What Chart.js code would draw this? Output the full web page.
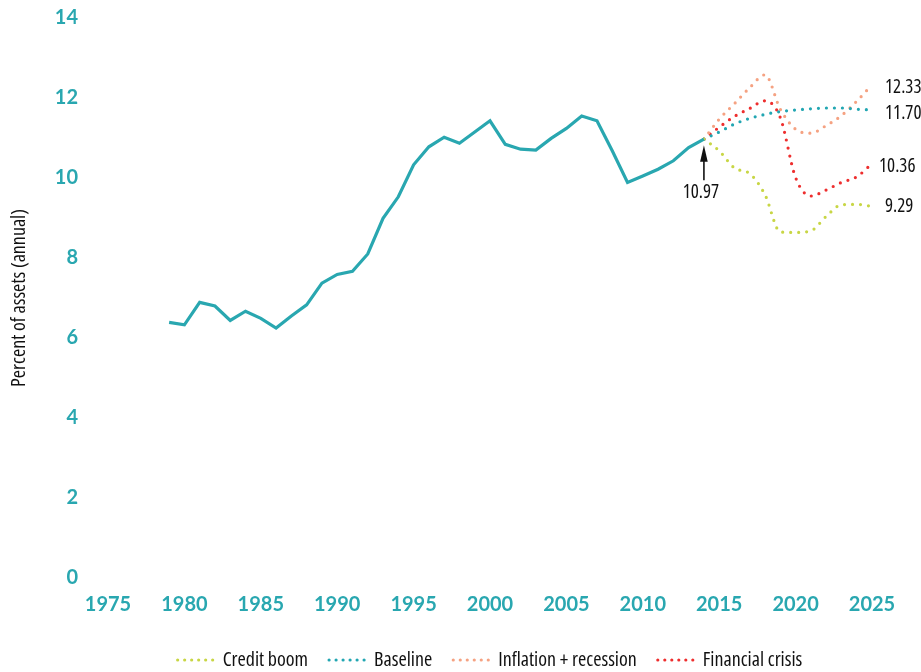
<!DOCTYPE html>
<html>
<head>
<meta charset="utf-8">
<script src="https://cdn.jsdelivr.net/npm/chart.js@4.4.1/dist/chart.umd.min.js"></script>
<style>
  html, body { margin: 0; padding: 0; background: #fff; }
  #wrap { width: 921px; height: 672px; }
</style>
</head>
<body>
<div id="wrap"><canvas id="chart"></canvas></div>
<script>
// historical series, 1979-2014
const histYears = [1979, 1980, 1981, 1982, 1983, 1984, 1985, 1986, 1987, 1988, 1989, 1990,
  1991, 1992, 1993, 1994, 1995, 1996, 1997, 1998, 1999, 2000, 2001, 2002,
  2003, 2004, 2005, 2006, 2007, 2008, 2009, 2010, 2011, 2012, 2013, 2014]
const histValues = [6.39, 6.33, 6.89, 6.80, 6.44, 6.67, 6.49, 6.25, 6.55, 6.83, 7.37, 7.59,
  7.67, 8.10, 8.99, 9.53, 10.33, 10.78, 11.02, 10.87, 11.15, 11.43, 10.84, 10.72,
  10.70, 10.99, 11.24, 11.55, 11.43, 10.68, 9.89, 10.05, 10.22, 10.43, 10.76, 10.97]

// scenario projections, 2014-2025
const projYears = [2014, 2015, 2016, 2017, 2018, 2019, 2020, 2021, 2022, 2023, 2024, 2025]
const creditBoom = [10.97, 10.68, 10.25, 10.11, 9.58, 8.65, 8.64, 8.68, 9.04, 9.33, 9.34, 9.29]
const baseline = [10.97, 11.15, 11.35, 11.49, 11.59, 11.66, 11.70, 11.73, 11.75, 11.75, 11.72, 11.70]
const inflationRecession = [10.97, 11.47, 11.86, 12.26, 12.58, 11.72, 11.22, 11.12, 11.31, 11.56, 11.92, 12.33]
const financialCrisis = [10.97, 11.27, 11.54, 11.74, 11.93, 11.51, 10.01, 9.55, 9.70, 9.89, 10.03, 10.36]

const yTicks = [0, 2, 4, 6, 8, 10, 12, 14]
const xTicks = [1975, 1980, 1985, 1990, 1995, 2000, 2005, 2010, 2015, 2020, 2025]

const teal = "#29a7b0"
// "condensed" goes in the weight slot so the font string picks the narrow face
const narrowFamily = "'Open Sans', sans-serif"
const narrow = (size) => ({ family: narrowFamily, size, weight: "condensed" })
const tickFont = { family: "Lato, 'Open Sans', sans-serif", size: 20, weight: "bold" }

const toPoints = (years, values) => years.map((yr, i) => ({ x: yr, y: values[i] }))

const dotted = (label, color, values) => ({
  label,
  data: toPoints(projYears, values),
  borderColor: color,
  backgroundColor: "transparent",
  borderWidth: 3.2,
  borderDash: [0, 8],
  borderCapStyle: "round",
  cubicInterpolationMode: "monotone",
  pointRadius: 0,
})

const noPadding = (scale) => {
  scale.paddingTop = 0
  scale.paddingBottom = 0
  scale.paddingLeft = 0
  scale.paddingRight = 0
}

// end-of-line value labels and the arrow at the last actual value
const annotations = {
  id: "annotations",
  afterDatasetsDraw(chart) {
    const { ctx, scales: { x, y } } = chart
    ctx.save()
    ctx.font = `condensed 19px ${narrowFamily}`
    ctx.fillStyle = "#111"
    ctx.textBaseline = "middle"
    ctx.textAlign = "left"
    const ends = [
      { v: inflationRecession[inflationRecession.length - 1], dx: 13, dy: 3 },
      { v: baseline[baseline.length - 1], dx: 13, dy: 4 },
      { v: financialCrisis[financialCrisis.length - 1], dx: 7, dy: 3 },
      { v: creditBoom[creditBoom.length - 1], dx: 13, dy: 0 },
    ]
    const xEnd = x.getPixelForValue(projYears[projYears.length - 1])
    ends.forEach((e) => {
      ctx.fillText(e.v.toFixed(2), xEnd + e.dx, y.getPixelForValue(e.v) + e.dy)
    })

    const last = histValues[histValues.length - 1]
    const ax = x.getPixelForValue(histYears[histYears.length - 1])
    const ay = y.getPixelForValue(last)
    ctx.strokeStyle = "#111"
    ctx.fillStyle = "#111"
    ctx.lineWidth = 1.6
    ctx.beginPath()
    ctx.moveTo(ax, ay + 41)
    ctx.lineTo(ax, ay + 20)
    ctx.stroke()
    ctx.beginPath()
    ctx.moveTo(ax, ay + 6)
    ctx.lineTo(ax - 3.8, ay + 22.5)
    ctx.lineTo(ax + 3.8, ay + 22.5)
    ctx.closePath()
    ctx.fill()
    ctx.textAlign = "center"
    ctx.fillText(last.toFixed(2), ax - 3, ay + 53)
    ctx.restore()
  },
}

new Chart(document.getElementById("chart"), {
  type: "line",
  data: {
    datasets: [
      {
        label: "Actual",
        data: toPoints(histYears, histValues),
        borderColor: teal,
        backgroundColor: "transparent",
        borderWidth: 3.2,
        pointRadius: 0,
        tension: 0,
      },
      dotted("Credit boom", "#c8d645", creditBoom),
      dotted("Baseline", "#22a6b2", baseline),
      dotted("Inflation + recession", "#f5a282", inflationRecession),
      dotted("Financial crisis", "#ee2e2e", financialCrisis),
    ],
  },
  options: {
    responsive: true,
    maintainAspectRatio: false,
    animation: false,
    layout: { padding: { left: 0, right: 49, top: 18, bottom: -8 } },
    plugins: {
      tooltip: { enabled: false },
      legend: {
        position: "bottom",
        fullSize: false,
        labels: {
          generateLabels: (chart) =>
            Chart.defaults.plugins.legend.labels
              .generateLabels(chart)
              .filter((item) => item.datasetIndex > 0)
              .map((item) => ({ ...item, lineDash: [0, 7] })),
          boxWidth: 35,
          boxHeight: 0,
          padding: 21,
          color: "#111",
          font: narrow(20),
        },
      },
    },
    scales: {
      x: {
        type: "linear",
        min: xTicks[0],
        max: xTicks[xTicks.length - 1],
        afterBuildTicks: (scale) => { scale.ticks = xTicks.map((v) => ({ value: v })) },
        afterFit: (scale) => { scale.height = 51; noPadding(scale) },
        grid: { display: false, drawTicks: false },
        border: { display: false },
        ticks: {
          padding: 15,
          color: teal,
          font: tickFont,
          maxRotation: 0,
          callback: (v) => String(v),
        },
      },
      y: {
        min: yTicks[0],
        max: yTicks[yTicks.length - 1],
        afterBuildTicks: (scale) => { scale.ticks = yTicks.map((v) => ({ value: v })) },
        afterFit: (scale) => { scale.width = 108; noPadding(scale) },
        grid: { display: false, drawTicks: false },
        border: { display: false },
        ticks: { padding: 30, color: teal, font: tickFont },
        title: {
          display: true,
          text: "Percent of assets (annual)",
          color: "#111",
          font: narrow(20),
          padding: { top: 7, bottom: 0 },
        },
      },
    },
  },
  plugins: [annotations],
})
</script>
</body>
</html>
